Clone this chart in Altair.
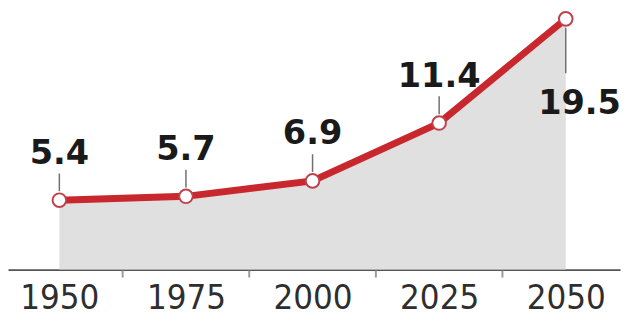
import altair as alt
import pandas as pd

years = [1950, 1975, 2000, 2025, 2050]
values = [5.4, 5.7, 6.9, 11.4, 19.5]
labels = ["5.4", "5.7", "6.9", "11.4", "19.5"]
minor_ticks = [1962.5, 1987.5, 2012.5, 2037.5]

df = pd.DataFrame({"year": years, "value": values, "label": labels})
ticks_df = pd.DataFrame({"year": minor_ticks})

W, H = 620, 263
xscale = alt.Scale(domain=[1939.86, 2060.72], nice=False, zero=False)
xaxis = alt.Axis(values=years, format="d", title=None, grid=False, ticks=False,
                 tickSize=0, labelPadding=39, labelBaseline="alphabetic",
                 labelFont="DejaVu Sans Condensed", labelFontSize=35,
                 labelColor="#2e2e2e", labelFlush=False, labelOverlap=False,
                 domainColor="#555555", domainWidth=2)
x = alt.X("year:Q", scale=xscale, axis=xaxis)
y = alt.Y("value:Q", scale=alt.Scale(domain=[0, 20.19], nice=False), axis=None)

base = alt.Chart(df)

area = base.mark_area(color="#e0e0e0", opacity=1).encode(x=x, y=y)

top = base.transform_filter("datum.year < 2050")
bot = base.transform_filter("datum.year == 2050")

lead_top = top.mark_rule(color="#707070", strokeWidth=1.5, yOffset=-9, y2Offset=-27).encode(
    x=x, y=y, y2="value:Q")
lead_bot = bot.mark_rule(color="#707070", strokeWidth=1.5, yOffset=9, y2Offset=55).encode(
    x=x, y=y, y2="value:Q")

line = base.mark_line(color="#c8282d", strokeWidth=7).encode(x=x, y=y)
pts = base.mark_point(filled=False, fill="white", fillOpacity=1, stroke="#c0404e",
                      strokeWidth=2, size=190, opacity=1).encode(x=x, y=y)

txt_top = top.mark_text(font="DejaVu Sans", fontWeight="bold", fontSize=34, color="#1a1a1a",
                        baseline="alphabetic", dy=-37).encode(x=x, y=y, text="label:N")
txt_bot = bot.mark_text(font="DejaVu Sans", fontWeight="bold", fontSize=34, color="#1a1a1a",
                        baseline="alphabetic", dy=96, dx=14).encode(x=x, y=y, text="label:N")

minor = alt.Chart(ticks_df).mark_rule(color="#9a9a9a", strokeWidth=2).encode(
    x=x, y=alt.value(H + 1), y2=alt.value(H + 8))

chart = alt.layer(area, minor, lead_top, lead_bot, line, pts, txt_top, txt_bot).properties(
    width=W, height=H,
    view=alt.ViewBackground(stroke=None, strokeWidth=0),
    autosize=alt.AutoSizeParams(type="none"),
    padding={"left": 0, "top": 0, "right": 3, "bottom": 48},
).configure_view(stroke=None, strokeWidth=0).configure(background="white")

chart.save("out.html", embed_options={"renderer": "svg", "actions": False})
